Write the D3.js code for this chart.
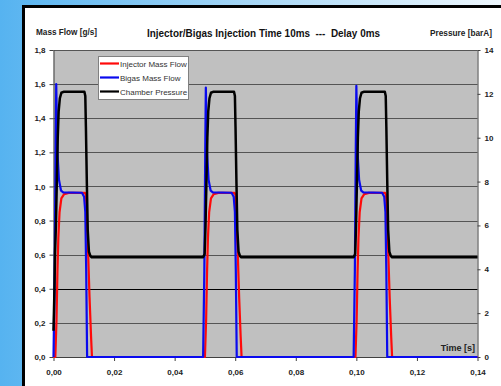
<!DOCTYPE html>
<html>
<head>
<meta charset="utf-8">
<script src="https://cdn.jsdelivr.net/npm/d3@7"></script>
<style>
  html, body { margin: 0; padding: 0; }
  svg { display: block; font-family: "Liberation Sans", Arial, sans-serif; }
</style>
</head>
<body>
<svg id="chart" width="501" height="386"></svg>
<script>
// ---- data ----
const flowTicks = [0, 0.2, 0.4, 0.6, 0.8, 1.0, 1.2, 1.4, 1.6, 1.8];
const pressureTicks = [0, 2, 4, 6, 8, 10, 12, 14];
const timeTicks = [0, 0.02, 0.04, 0.06, 0.08, 0.10, 0.12, 0.14];
const seriesNames = ["Injector Mass Flow", "Bigas Mass Flow", "Chamber Pressure"];
const seriesColors = ["#ff0a0a", "#0a0aee", "#000000"];

// [time s, mass flow g/s]
const injectorFlow = [
  [0, 0], [0.0006, 0], [0.0010, 0.22], [0.0013, 0.50], [0.0016, 0.70], [0.0020, 0.85], [0.0026, 0.93],
  [0.0035, 0.955], [0.0050, 0.962], [0.0104, 0.962], [0.0107, 0.95], [0.0114, 0.63], [0.0119, 0.35],
  [0.0124, 0.12], [0.0127, 0],
  [0.0494, 0], [0.0500, 0], [0.0504, 0.22], [0.0507, 0.50], [0.0510, 0.70], [0.0514, 0.85], [0.0520, 0.93],
  [0.0529, 0.955], [0.0544, 0.962], [0.0598, 0.962], [0.0601, 0.95], [0.0608, 0.63], [0.0613, 0.35],
  [0.0618, 0.12], [0.0621, 0],
  [0.0991, 0], [0.0997, 0], [0.1001, 0.22], [0.1004, 0.50], [0.1007, 0.70], [0.1011, 0.85], [0.1017, 0.93],
  [0.1026, 0.955], [0.1041, 0.962], [0.1095, 0.962], [0.1098, 0.95], [0.1105, 0.63], [0.1110, 0.35],
  [0.1115, 0.12], [0.1118, 0],
  [0.14, 0]
];

const bigasFlow = [
  [0, 0], [0.0004, 0.5], [0.0007, 1.2], [0.0009, 1.60], [0.0011, 1.38], [0.0013, 1.2], [0.0018, 1.04],
  [0.0025, 0.975], [0.0032, 0.965], [0.0094, 0.963], [0.0101, 0.94], [0.0105, 0.85], [0.0108, 0.5], [0.0111, 0],
  [0.0494, 0], [0.0498, 0.5], [0.0501, 1.2], [0.0503, 1.58], [0.0505, 1.38], [0.0507, 1.2], [0.0512, 1.04],
  [0.0519, 0.975], [0.0526, 0.965], [0.0588, 0.963], [0.0595, 0.94], [0.0599, 0.85], [0.0602, 0.5], [0.0605, 0],
  [0.0991, 0], [0.0995, 0.5], [0.0998, 1.2], [0.1000, 1.59], [0.1002, 1.38], [0.1004, 1.2], [0.1009, 1.04],
  [0.1016, 0.975], [0.1023, 0.965], [0.1085, 0.963], [0.1092, 0.94], [0.1096, 0.85], [0.1099, 0.5], [0.1102, 0],
  [0.14, 0]
];

// [time s, pressure barA]
const chamberPressure = [
  [0, 1.2], [0.0003, 3.0], [0.0005, 4.7], [0.0008, 6.0], [0.0011, 8.0], [0.0014, 10.0], [0.0017, 11.2],
  [0.0021, 11.8], [0.0026, 12.05], [0.0035, 12.1], [0.0102, 12.1], [0.0105, 11.9], [0.0107, 10.5],
  [0.0110, 8.0], [0.0113, 5.8], [0.0117, 4.8], [0.0122, 4.6], [0.0126, 4.55],
  [0.0494, 4.55], [0.0499, 4.7], [0.0502, 6.0], [0.0505, 8.0], [0.0508, 10.0], [0.0511, 11.2],
  [0.0515, 11.8], [0.0520, 12.05], [0.0529, 12.1], [0.0596, 12.1], [0.0599, 11.9], [0.0601, 10.5],
  [0.0604, 8.0], [0.0607, 5.8], [0.0611, 4.8], [0.0616, 4.6], [0.0620, 4.55],
  [0.0991, 4.55], [0.0996, 4.7], [0.0999, 6.0], [0.1002, 8.0], [0.1005, 10.0], [0.1008, 11.2],
  [0.1012, 11.8], [0.1017, 12.05], [0.1026, 12.1], [0.1094, 12.1], [0.1097, 11.9], [0.1099, 10.5],
  [0.1102, 8.0], [0.1105, 5.8], [0.1109, 4.8], [0.1114, 4.6], [0.1118, 4.55],
  [0.14, 4.55]
];

// ---- layout ----
const W = 501, H = 386;
const plot = { left: 53.5, right: 477.5, top: 50, bottom: 357 };
const comma = (d, n) => d.toFixed(n).replace(".", ",");

const svg = d3.select("#chart");

const defs = svg.append("defs");
const grad = defs.append("linearGradient").attr("id", "bg").attr("x1", 0).attr("x2", 1).attr("y1", 0).attr("y2", 0);
grad.append("stop").attr("offset", "0%").attr("stop-color", "#56b3f0");
grad.append("stop").attr("offset", "50%").attr("stop-color", "#a6d6f5");
grad.append("stop").attr("offset", "100%").attr("stop-color", "#eef7fd");

svg.append("rect").attr("width", W).attr("height", H).attr("fill", "url(#bg)");

// white panel with black frame
svg.append("rect")
  .attr("x", 23.5).attr("y", 6.5)
  .attr("width", W).attr("height", H)
  .attr("fill", "#ffffff")
  .attr("stroke", "#000").attr("stroke-width", 3);

const x = d3.scaleLinear().domain([0, 0.14]).range([plot.left, plot.right]);
const yFlow = d3.scaleLinear().domain([0, 1.8]).range([plot.bottom, plot.top]);
const yPress = d3.scaleLinear().domain([0, 14]).range([plot.bottom, plot.top]);

svg.append("rect")
  .attr("x", plot.left).attr("y", plot.top)
  .attr("width", plot.right - plot.left).attr("height", plot.bottom - plot.top)
  .attr("fill", "#c0c0c0");

// gridlines
svg.append("g")
  .selectAll("line")
  .data(flowTicks.slice(1))
  .enter()
  .append("line")
  .attr("x1", plot.left).attr("x2", plot.right)
  .attr("y1", (d) => Math.round(yFlow(d)) + 0.5)
  .attr("y2", (d) => Math.round(yFlow(d)) + 0.5)
  .attr("stroke", (d) => (Math.abs(d - 0.4) < 1e-9 ? "#000" : "#555"))
  .attr("stroke-width", 1);

// axes
const tickStyle = (g) => {
  g.select(".domain").attr("stroke", "#404040");
  g.selectAll(".tick line").attr("stroke", "#404040");
  g.selectAll(".tick text")
    .attr("fill", "#222")
    .attr("font-size", 8)
    .attr("font-weight", "bold")
    .attr("font-family", "Liberation Sans, Arial, sans-serif");
};

svg.append("g")
  .attr("transform", `translate(0,${plot.bottom})`)
  .call(d3.axisBottom(x).tickValues(timeTicks).tickSize(4).tickSizeOuter(0).tickPadding(8)
    .tickFormat((d) => comma(d, 2)))
  .call(tickStyle);

svg.append("g")
  .attr("transform", `translate(${plot.left},0)`)
  .call(d3.axisLeft(yFlow).tickValues(flowTicks).tickSize(4).tickSizeOuter(0).tickPadding(4)
    .tickFormat((d) => comma(d, 1)))
  .call(tickStyle);

svg.append("g")
  .attr("transform", `translate(${plot.right},0)`)
  .call(d3.axisRight(yPress).tickValues(pressureTicks).tickSize(3).tickSizeOuter(0).tickPadding(4)
    .tickFormat((d) => d))
  .call(tickStyle);

// series
const lineFlow = d3.line().x((d) => x(d[0])).y((d) => yFlow(d[1]));
const linePress = d3.line().x((d) => x(d[0])).y((d) => yPress(d[1]));

svg.append("path").datum(injectorFlow)
  .attr("d", lineFlow).attr("fill", "none")
  .attr("stroke", seriesColors[0]).attr("stroke-width", 2.2).attr("stroke-linejoin", "round");

svg.append("path").datum(bigasFlow)
  .attr("d", lineFlow).attr("fill", "none")
  .attr("stroke", seriesColors[1]).attr("stroke-width", 2.2).attr("stroke-linejoin", "round");

svg.append("path").datum(chamberPressure)
  .attr("d", linePress).attr("fill", "none")
  .attr("stroke", seriesColors[2]).attr("stroke-width", 2.5).attr("stroke-linejoin", "round");

// titles
svg.append("text")
  .attr("x", 36).attr("y", 35)
  .attr("font-size", 9).attr("font-weight", "bold").attr("fill", "#222")
  .attr("textLength", 61).attr("lengthAdjust", "spacingAndGlyphs")
  .text("Mass Flow [g/s]");

svg.append("text")
  .attr("x", 147).attr("y", 37)
  .attr("font-size", 11).attr("font-weight", "bold").attr("fill", "#111")
  .style("white-space", "pre")
  .attr("textLength", 233).attr("lengthAdjust", "spacingAndGlyphs")
  .text("Injector/Bigas Injection Time 10ms  ---  Delay 0ms");

svg.append("text")
  .attr("x", 430).attr("y", 36)
  .attr("font-size", 9).attr("font-weight", "bold").attr("fill", "#222")
  .attr("textLength", 62).attr("lengthAdjust", "spacingAndGlyphs")
  .text("Pressure [barA]");

svg.append("text")
  .attr("x", 475).attr("y", 351)
  .attr("text-anchor", "end")
  .attr("font-size", 9).attr("font-weight", "bold").attr("fill", "#222")
  .text("Time [s]");

// legend
const legend = svg.append("g").attr("transform", "translate(98,56)");
legend.append("rect")
  .attr("x", 0.5).attr("y", 0.5).attr("width", 90).attr("height", 43)
  .attr("fill", "#fff").attr("stroke", "#808080");

const rows = legend.selectAll(".leg")
  .data(seriesNames)
  .enter()
  .append("g")
  .attr("transform", (d, i) => `translate(0,${7.5 + i * 14})`);

rows.append("line")
  .attr("x1", 2).attr("x2", 21)
  .attr("stroke", (d, i) => seriesColors[i])
  .attr("stroke-width", 2.2);

rows.append("text")
  .attr("x", 22).attr("y", 3)
  .attr("font-size", 8).attr("fill", "#333")
  .text((d) => d);
</script>
</body>
</html>
